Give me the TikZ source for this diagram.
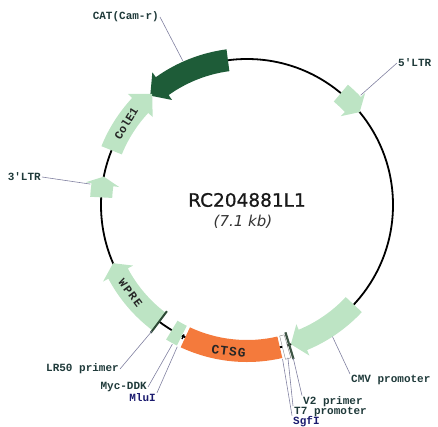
\documentclass[tikz,border=0pt]{standalone}
\usepackage{fontspec}
\setmainfont{DejaVu Sans}
\newfontfamily\labfont{Liberation Mono}
\definecolor{catgreen}{HTML}{1E5C38}
\definecolor{featgreen}{HTML}{BDE4C4}
\definecolor{ctsgorange}{HTML}{F47A3C}
\definecolor{labcol}{HTML}{1F3A3A}
\definecolor{sitenavy}{HTML}{1A1A6E}
\definecolor{leadercol}{HTML}{8080A0}
\definecolor{tickcol}{HTML}{2E4A36}
\def\rin{135pt}
\def\rout{157pt}
\def\rmid{146pt}
\def\rwi{129pt}
\def\rwo{163pt}
% #1 style, #2 tail angle, #3 head base angle, #4 tip angle
\newcommand\arrowfeat[4]{%
  \fill[#1] (#2:\rout) arc[start angle=#2, end angle=#3, radius=\rout] -- (#3:\rwo) -- (#4:\rmid) -- (#3:\rwi) -- (#3:\rin) arc[start angle=#3, end angle=#2, radius=\rin] -- cycle;}
\newcommand\blockfeat[3]{%
  \fill[#1] (#2:\rout) arc[start angle=#2, end angle=#3, radius=\rout] -- (#3:\rin) arc[start angle=#3, end angle=#2, radius=\rin] -- cycle;}
\tikzset{
  lab/.style={font=\labfont\bfseries\fontsize{11}{12}\selectfont, text=labcol, inner sep=1pt},
  sitelab/.style={lab, text=sitenavy},
  leader/.style={draw=leadercol, line width=0.6pt},
  intext/.style={font=\labfont\bfseries\fontsize{11.5}{12}\selectfont, text=black!85},
  backbone/.style={line width=1.8pt, black},
}
\begin{document}
\begin{tikzpicture}[x=1pt,y=1pt]
\useasboundingbox (-247,-221) rectangle (191,205);
% backbone
\draw[backbone] (0,0) circle[radius=146pt];
% features
\arrowfeat{catgreen}{97.5}{125.5}{131.5}
\arrowfeat{featgreen}{158}{137}{130.5}
\arrowfeat{featgreen}{177}{172}{168.8}
\arrowfeat{featgreen}{233}{208}{203.5}
\arrowfeat{featgreen}{317}{292.5}{287.5}
\arrowfeat{featgreen}{50}{43.5}{39.5}
\blockfeat{ctsgorange}{245}{283}
\blockfeat{featgreen}{239}{243.5}
% SgfI box, V2/T7 tick, LR50 tick, MluI tick
\filldraw[fill=white, draw=gray, line width=0.4pt] (284:159pt) arc[start angle=284, end angle=286, radius=159pt] -- (286:135pt) arc[start angle=286, end angle=284, radius=135pt] -- cycle;
\draw[tickcol!80!gray, line width=2.2pt] (286.8:133pt) -- (286.8:161pt);
\draw[tickcol, line width=2pt] (233:133pt) -- (233:160pt);
\draw[black, line width=1.4pt] (244.1:144pt) -- (244.1:149pt);
% texts inside features
\node[intext, rotate=58] (colet) at (146:146pt) {ColE1};
\node[intext, rotate=-53, font=\labfont\bfseries\fontsize{11.5}{12}\selectfont\addfontfeature{LetterSpace=12}] (wpret) at (217:146pt) {WPRE};
\node[intext, rotate=-7, font=\labfont\bfseries\fontsize{13}{14}\selectfont\addfontfeature{LetterSpace=8}] (ctsgt) at (262.8:147pt) {CTSG};
% centre title
\node[font=\fontsize{18.5}{20}\selectfont\addfontfeature{FakeBold=0.8}, text=black!90] (title) at (0,5) {RC204881L1};
\node[font=\itshape\fontsize{15}{16}\selectfont, text=black!80] (size) at (-4,-17) {(7.1 kb)};
% label anchors on features
\coordinate (catpt) at (114:158pt);
\coordinate (ltrfivept) at (44:158pt);
\coordinate (ltrthreept) at (172.4:158pt);
\coordinate (lrpt) at (233:158pt);
\coordinate (mycpt) at (241.8:158pt);
\coordinate (mlupt) at (243.8:158pt);
\coordinate (cmvpt) at (303:157pt);
\coordinate (vtwopt) at (286.8:160pt);
\coordinate (tsevenpt) at (285:158pt);
\coordinate (sgfpt) at (283:158pt);
% labels
\node[lab, anchor=east] (catlab) at (-87,188) {CAT(Cam-r)};
\node[lab, anchor=west] (ltrfivelab) at (150,142) {5'LTR};
\node[lab, anchor=east] (ltrthreelab) at (-205,28) {3'LTR};
\node[lab, anchor=east] (lrlab) at (-127,-164) {LR50 primer};
\node[lab, anchor=east] (myclab) at (-99,-182) {Myc-DDK};
\node[sitelab, anchor=east] (mlulab) at (-90,-193) {MluI};
\node[lab, anchor=west] (cmvlab) at (103,-175) {CMV promoter};
\node[lab, anchor=west] (vtwolab) at (55,-197) {V2 primer};
\node[lab, anchor=west] (tsevenlab) at (46,-207) {T7 promoter};
\node[sitelab, anchor=west] (sgflab) at (45,-217) {SgfI};
% leaders
\draw[leader] (catlab.east) -- (catpt);
\draw[leader] (ltrfivelab.west) -- (ltrfivept);
\draw[leader] (ltrthreelab.east) -- (ltrthreept);
\draw[leader] (lrlab.east) -- (lrpt);
\draw[leader] (myclab.east) -- (mycpt);
\draw[leader] (mlulab.north east) -- (mlupt);
\draw[leader] (cmvlab.north west) -- (cmvpt);
\draw[leader] (vtwolab.north west) -- (vtwopt);
\draw[leader] (tsevenlab.north west) -- (tsevenpt);
\draw[leader] (sgflab.north west) -- (sgfpt);
\end{tikzpicture}
\end{document}
